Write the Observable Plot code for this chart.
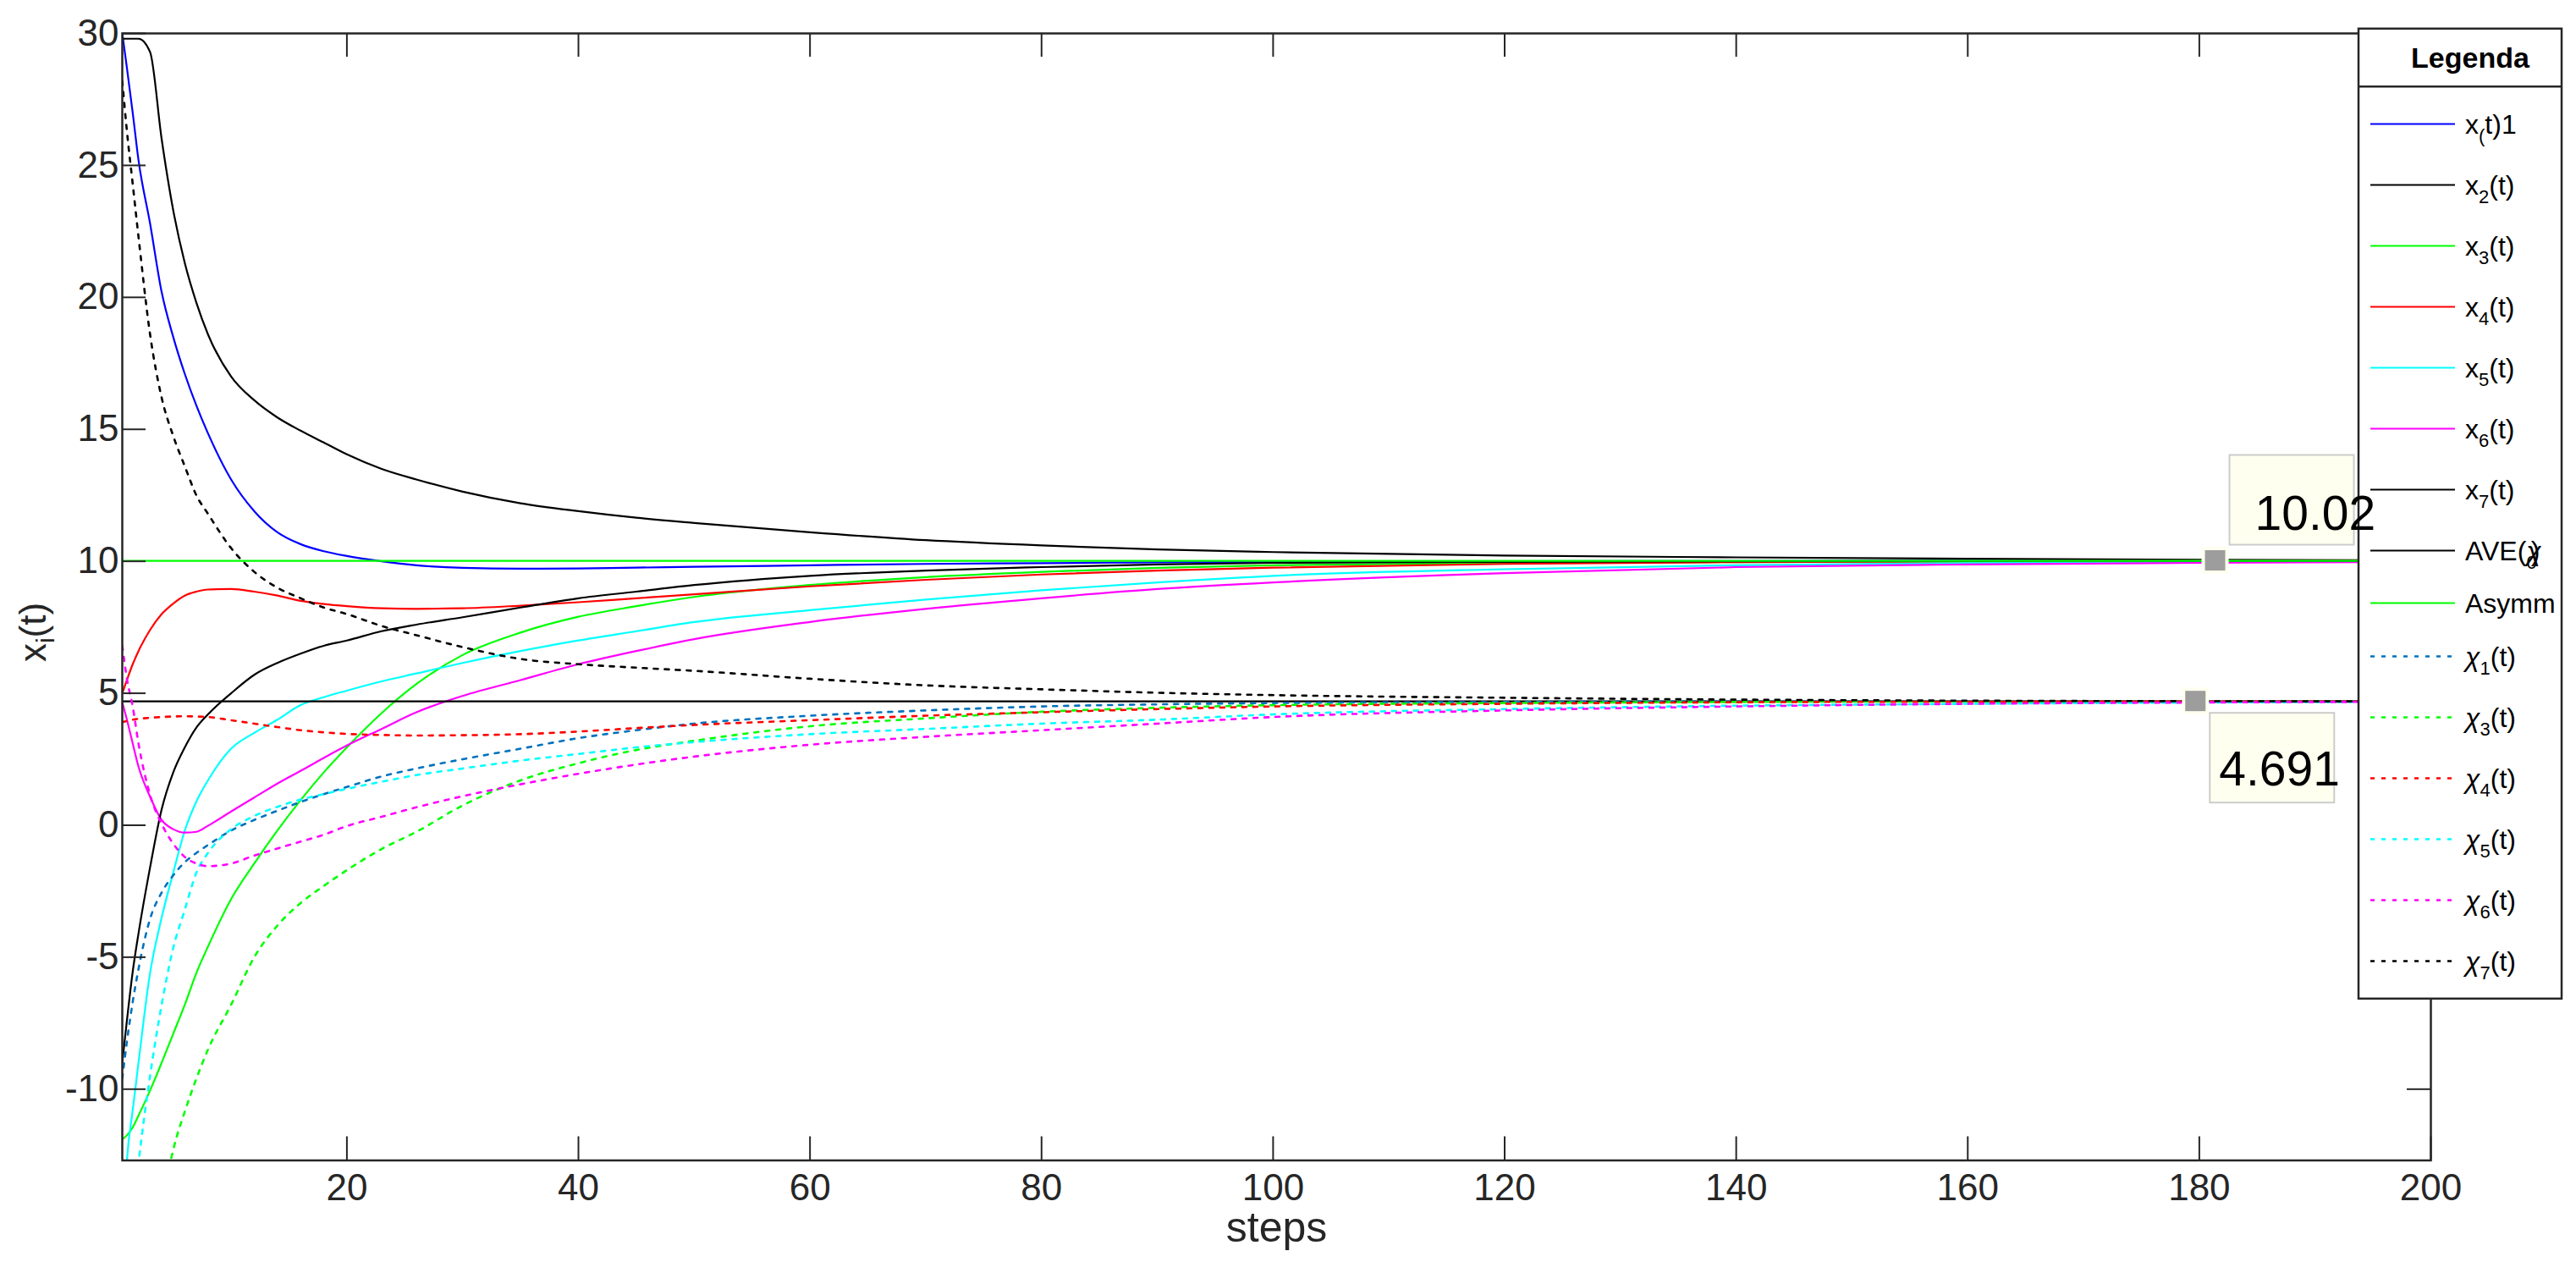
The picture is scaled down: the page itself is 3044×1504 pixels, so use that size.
<!DOCTYPE html>
<html><head><meta charset="utf-8">
<script src="https://cdn.jsdelivr.net/npm/d3@7"></script>
<script src="https://cdn.jsdelivr.net/npm/@observablehq/plot@0.6"></script>
<style>
html,body{margin:0;padding:0;background:#fff;overflow:hidden}
#chart{position:relative;width:3044px;height:1504px}
</style></head><body><div id="chart"></div>
<script>
// ---- data ----
const steps = [0.6, 1, 1.5, 2, 3, 4, 5, 6, 7, 8, 10, 12, 14, 16, 18, 20, 23, 26, 30, 35, 40, 45, 50, 60, 70, 80, 90, 100, 120, 140, 160, 180, 200];
const x1 = [30, 28.7, 27.0, 25.2, 22.8, 20.2, 18.5, 17.1, 15.9, 14.85, 13.1, 11.9, 11.1, 10.65, 10.38, 10.2, 10.0, 9.85, 9.75, 9.72, 9.73, 9.76, 9.79, 9.85, 9.9, 9.93, 9.96, 9.98, 10.0, 10.01, 10.02, 10.02, 10.02];
const x2 = [29.8, 29.8, 29.8, 29.8, 29.3, 26.0, 23.3, 21.3, 19.8, 18.6, 17.0, 16.1, 15.45, 14.95, 14.5, 14.05, 13.5, 13.1, 12.64, 12.2, 11.9, 11.65, 11.45, 11.1, 10.8, 10.6, 10.45, 10.35, 10.22, 10.15, 10.1, 10.06, 10.04];
const x3 = [-11.9, -11.75, -11.45, -11.0, -10.05, -9.0, -7.9, -6.8, -5.6, -4.6, -2.8, -1.45, -0.2, 0.95, 2.0, 2.95, 4.25, 5.35, 6.45, 7.3, 7.9, 8.3, 8.65, 9.1, 9.4, 9.6, 9.75, 9.85, 9.93, 9.97, 9.99, 10.01, 10.02];
const x4 = [5.0, 5.5, 6.1, 6.6, 7.4, 8.0, 8.4, 8.7, 8.85, 8.93, 8.95, 8.85, 8.7, 8.5, 8.38, 8.3, 8.22, 8.2, 8.22, 8.32, 8.45, 8.6, 8.75, 9.05, 9.3, 9.5, 9.65, 9.76, 9.9, 9.97, 10.0, 10.01, 10.02];
const x5 = [-16, -12.7, -10.8, -9.0, -5.6, -3.5, -1.8, -0.2, 0.9, 1.7, 2.9, 3.5, 4.0, 4.55, 4.85, 5.1, 5.45, 5.75, 6.15, 6.6, 7.0, 7.35, 7.7, 8.15, 8.55, 8.9, 9.2, 9.45, 9.7, 9.85, 9.93, 9.98, 10.0];
const x6 = [4.66, 4.0, 3.1, 2.22, 1.08, 0.2, -0.15, -0.28, -0.25, -0.02, 0.52, 1.05, 1.58, 2.06, 2.55, 3.02, 3.65, 4.28, 4.9, 5.5, 6.1, 6.6, 7.05, 7.7, 8.2, 8.6, 8.95, 9.2, 9.55, 9.78, 9.88, 9.94, 9.98];
const x7 = [-9.0, -7.4, -5.55, -4.1, -1.6, 0.6, 2.0, 2.95, 3.7, 4.2, 5.0, 5.7, 6.15, 6.5, 6.8, 7.0, 7.35, 7.6, 7.88, 8.25, 8.6, 8.85, 9.1, 9.45, 9.65, 9.78, 9.88, 9.94, 9.98, 10.0, 10.01, 10.02, 10.02];
const chi1 = [-9.6, -8.2, -6.7, -5.45, -3.55, -2.55, -1.9, -1.4, -1.05, -0.75, -0.2, 0.2, 0.55, 0.88, 1.18, 1.45, 1.85, 2.15, 2.5, 2.9, 3.3, 3.6, 3.85, 4.15, 4.35, 4.5, 4.58, 4.63, 4.67, 4.69, 4.69, 4.69, 4.69];
const chi3 = [-30, -26, -24, -22, -18, -14.5, -12.3, -10.85, -9.6, -8.5, -6.8, -5.0, -3.8, -2.95, -2.3, -1.7, -0.9, -0.25, 0.75, 1.7, 2.35, 2.85, 3.2, 3.75, 4.05, 4.3, 4.45, 4.55, 4.63, 4.67, 4.69, 4.69, 4.69];
const chi4 = [3.9, 3.95, 4.0, 4.03, 4.07, 4.1, 4.12, 4.13, 4.12, 4.1, 3.98, 3.85, 3.72, 3.6, 3.52, 3.46, 3.42, 3.4, 3.41, 3.45, 3.55, 3.68, 3.8, 3.98, 4.15, 4.28, 4.4, 4.5, 4.6, 4.66, 4.68, 4.69, 4.69];
const chi5 = [-20, -17, -14.8, -12.8, -9.5, -6.8, -4.65, -3.2, -1.8, -1.05, -0.15, 0.35, 0.7, 0.97, 1.18, 1.38, 1.65, 1.9, 2.15, 2.45, 2.7, 2.95, 3.15, 3.45, 3.65, 3.85, 4.0, 4.2, 4.4, 4.53, 4.6, 4.65, 4.68];
const chi6 = [6.8, 5.55, 4.5, 3.1, 1.15, 0.05, -0.7, -1.2, -1.45, -1.55, -1.45, -1.15, -0.88, -0.62, -0.36, -0.03, 0.32, 0.68, 1.1, 1.55, 1.95, 2.3, 2.6, 3.05, 3.35, 3.6, 3.85, 4.1, 4.35, 4.5, 4.6, 4.65, 4.68];
const chi7 = [28.2, 26.3, 24.3, 22.3, 18.6, 16.2, 14.75, 13.6, 12.5, 11.8, 10.5, 9.6, 9.0, 8.6, 8.25, 8.0, 7.55, 7.2, 6.75, 6.3, 6.1, 5.97, 5.85, 5.55, 5.3, 5.15, 5.02, 4.93, 4.83, 4.76, 4.72, 4.7, 4.69];
const aveX0 = 4.691;
const asymm = 10.02;
const xTicks = [20, 40, 60, 80, 100, 120, 140, 160, 180, 200];
const yTicks = [-10, -5, 0, 5, 10, 15, 20, 25, 30];
const xLabel = "steps";
const legendTitle = "Legenda";
const tipSteps = [181.4, 179.7];
const tipValues = [10.02, 4.691];
const tipLabels = ["10.02", "4.691"];

// label parts: [text, kind]  kind: "" normal, "sub" subscript, "it" italic, "back" overlapped
const series = [
  {name: "x1", values: x1, color: "#0000ff", dotted: false, label: [["x",""],["(","sub"],["t)1",""]]},
  {name: "x2", values: x2, color: "#000000", dotted: false, label: [["x",""],["2","sub"],["(t)",""]]},
  {name: "x3", values: x3, color: "#00ff00", dotted: false, label: [["x",""],["3","sub"],["(t)",""]]},
  {name: "x4", values: x4, color: "#ff0000", dotted: false, label: [["x",""],["4","sub"],["(t)",""]]},
  {name: "x5", values: x5, color: "#00ffff", dotted: false, label: [["x",""],["5","sub"],["(t)",""]]},
  {name: "x6", values: x6, color: "#ff00ff", dotted: false, label: [["x",""],["6","sub"],["(t)",""]]},
  {name: "x7", values: x7, color: "#000000", dotted: false, label: [["x",""],["7","sub"],["(t)",""]]},
  {name: "ave", ref: aveX0, color: "#000000", dotted: false, label: [["AVE(",""],["χ","it"],[")","back"],["0","subback"]]},
  {name: "asymm", ref: asymm, color: "#00ff00", dotted: false, label: [["Asymm",""]]},
  {name: "chi1", values: chi1, color: "#0072bd", dotted: true, label: [["χ","it"],["1","sub"],["(t)",""]]},
  {name: "chi3", values: chi3, color: "#00ff00", dotted: true, label: [["χ","it"],["3","sub"],["(t)",""]]},
  {name: "chi4", values: chi4, color: "#ff0000", dotted: true, label: [["χ","it"],["4","sub"],["(t)",""]]},
  {name: "chi5", values: chi5, color: "#00ffff", dotted: true, label: [["χ","it"],["5","sub"],["(t)",""]]},
  {name: "chi6", values: chi6, color: "#ff00ff", dotted: true, label: [["χ","it"],["6","sub"],["(t)",""]]},
  {name: "chi7", values: chi7, color: "#000000", dotted: true, label: [["χ","it"],["7","sub"],["(t)",""]]}
];

// ---- layout ----
const W = 3044, H = 1504;
const mL = 144, mR = W - 2872, mT = 39, mB = H - 1370.5;
const plotW = W - mL - mR, plotH = H - mT - mB;
const FONT = "'Liberation Sans', Arial, Helvetica, sans-serif";
const DASH = "5,8";

const marks = [];
for (const s of series) {
  if (s.values) {
    const rows = steps.map((t, i) => ({t, v: s.values[i]}));
    marks.push(Plot.line(rows, {x: "t", y: "v", stroke: s.color, strokeWidth: s.dotted ? 2.6 : 2.2,
      strokeDasharray: s.dotted ? DASH : null, curve: "monotone-x", clip: true}));
  } else {
    marks.push(Plot.ruleY([s.ref], {x1: steps[0], x2: steps[steps.length - 1], stroke: s.color, strokeWidth: 2.2}));
  }
}

const plot = Plot.plot({
  width: W, height: H,
  marginLeft: mL, marginRight: mR, marginTop: mT, marginBottom: mB,
  style: {fontFamily: FONT, fontSize: "44px", color: "#262626", background: "white", overflow: "visible"},
  x: {domain: [0.6, 200]},
  y: {domain: [-12.7, 30]},
  marks: [
    ...marks,
    Plot.tickX(xTicks, {x: d => d, stroke: "#262626", strokeWidth: 2, insetTop: plotH - 28}),
    Plot.tickX(xTicks, {x: d => d, stroke: "#262626", strokeWidth: 2, insetBottom: plotH - 28}),
    Plot.tickY(yTicks, {y: d => d, stroke: "#262626", strokeWidth: 2, insetRight: plotW - 28}),
    Plot.tickY(yTicks, {y: d => d, stroke: "#262626", strokeWidth: 2, insetLeft: plotW - 28}),
    Plot.frame({stroke: "#262626", strokeWidth: 2.5}),
    Plot.axisX(xTicks, {tickSize: 0, tickPadding: 16, label: null, tickFormat: d => String(d), fontSize: 44, fill: "#262626"}),
    Plot.axisY(yTicks, {tickSize: 0, tickPadding: 4, label: null, tickFormat: d => String(d), fontSize: 44, fill: "#262626"}),
    Plot.text([xLabel], {text: d => d, frameAnchor: "bottom", lineAnchor: "middle", dy: 80, fontSize: 50, fill: "#262626"}),
    Plot.text(["xi(t)"], {text: d => d, frameAnchor: "left", rotate: -90, fontSize: 44, fill: "#262626"})
  ]
});
document.getElementById("chart").appendChild(plot);

const svg = d3.select(plot);
// y label with subscript, placed like the reference
svg.selectAll("text").filter(function () { return this.textContent === "xi(t)"; })
  .each(function () {
    const t = d3.select(this);
    if (this.parentNode) d3.select(this.parentNode).attr("transform", null);
    t.text("").attr("x", null).attr("y", null).attr("dx", null).attr("dy", "0.32em")
      .attr("text-anchor", "middle").attr("transform", "translate(40,747) rotate(-90)");
    t.append("tspan").text("x");
    t.append("tspan").attr("dy", 10).attr("font-size", 30).text("i");
    t.append("tspan").attr("dy", -10).text("(t)");
  });

// ---- legend ----
const LX = 2787, LY = 33.8, LW = 240, LH = 1146;
const lg = svg.append("g").attr("font-family", FONT).attr("fill", "#000").attr("text-anchor", "start");
lg.append("rect").attr("x", LX).attr("y", LY).attr("width", LW).attr("height", LH)
  .attr("fill", "white").attr("stroke", "#262626").attr("stroke-width", 2.5);
lg.append("line").attr("x1", LX).attr("x2", LX + LW).attr("y1", 102.2).attr("y2", 102.2)
  .attr("stroke", "#262626").attr("stroke-width", 2.5);
lg.append("text").attr("x", 2919).attr("y", 80).attr("text-anchor", "middle")
  .attr("font-weight", "bold").attr("font-size", 34).text(legendTitle);
series.forEach((s, i) => {
  const y = 146.5 + 72 * i - (i === 8 ? 10 : i >= 9 ? 19 : 0);
  lg.append("line").attr("x1", 2801).attr("x2", 2901).attr("y1", y).attr("y2", y)
    .attr("stroke", s.color).attr("stroke-width", s.dotted ? 2.6 : 2.2)
    .attr("stroke-dasharray", s.dotted ? DASH : null);
  const t = lg.append("text").attr("x", 2913).attr("y", y + 11).attr("font-size", 32).attr("text-anchor", "start");
  let shifted = 0;
  for (const [txt, kind] of s.label) {
    const sp = t.append("tspan").text(txt);
    if (kind === "sub" || kind === "subback") {
      sp.attr("font-size", 22).attr("dy", 10 - shifted);
      if (kind === "subback") sp.attr("dx", -16);
      shifted = 10;
    } else {
      if (shifted) { sp.attr("dy", -shifted); shifted = 0; }
      if (kind === "it") sp.attr("font-style", "italic");
      if (kind === "back") sp.attr("dx", -12);
    }
  }
});

// ---- data tips ----
const sx = plot.scale("x"), sy = plot.scale("y");
const tipBoxes = [{dx: 17, dy: -124.5, tx: 47, ty: -36.5}, {dx: 17, dy: 14, tx: 28, ty: 100}];
const tg = svg.append("g").attr("font-family", FONT).attr("text-anchor", "start");
tipSteps.forEach((st, i) => {
  const px = sx.apply(st), py = sy.apply(tipValues[i]);
  const b = tipBoxes[i];
  tg.append("rect").attr("x", px - 16).attr("y", py - 16).attr("width", 32).attr("height", 32).attr("fill", "#fffff0");
  tg.append("rect").attr("x", px - 12).attr("y", py - 12).attr("width", 24).attr("height", 24).attr("fill", "#9d9d9d");
  tg.append("rect").attr("x", px + b.dx).attr("y", py + b.dy).attr("width", 147).attr("height", 106)
    .attr("fill", "#ffffef").attr("stroke", "#cccccc").attr("stroke-width", 2);
  tg.append("text").attr("x", px + b.tx).attr("y", py + b.ty).attr("font-size", 57).attr("fill", "#000")
    .attr("text-anchor", "start").text(tipLabels[i]);
});
</script></body></html>
